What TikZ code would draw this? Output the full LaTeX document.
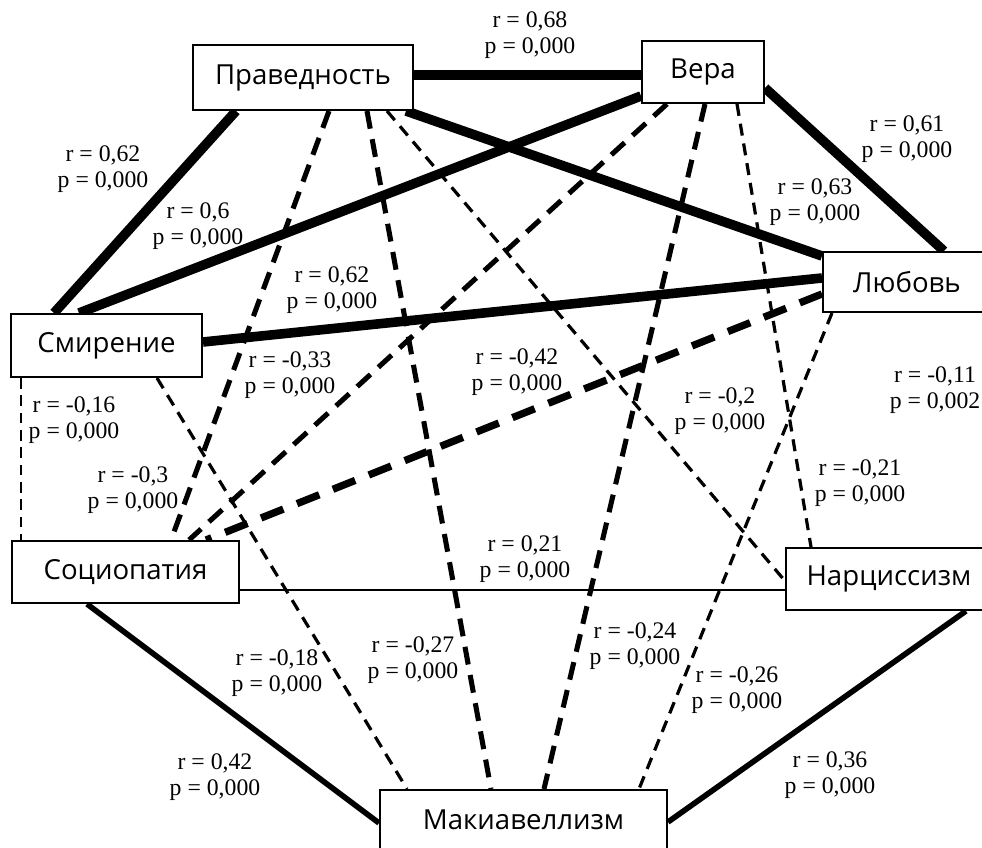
\documentclass[tikz,border=0pt]{standalone}
\usepackage{fontspec}
\newfontfamily\labfont{Liberation Serif}
\newfontfamily\boxfont{Open Sans}
\usetikzlibrary{calc}
\pgfdeclarelayer{bg}
\pgfsetlayers{bg,main}
\tikzset{
  box/.style={draw, line width=1.5pt, fill=white, inner sep=0pt, font=\boxfont\fontsize{20.7}{24}\selectfont},
  lab/.style={align=center, inner sep=0pt, font=\labfont\fontsize{17.8}{19.5}\selectfont},
  strong/.style={line width=7.2pt},
  mid/.style={line width=4.2pt},
  weak/.style={line width=2pt},
  dthick/.style={line width=5.5pt, dash pattern=on 18pt off 11pt},
  dmid/.style={line width=3.8pt, dash pattern=on 13.5pt off 8pt},
  dthin/.style={line width=2.4pt, dash pattern=on 9pt off 6pt},
  dfine/.style={line width=1.6pt, dash pattern=on 8pt off 5pt},
}
\begin{document}
\begin{tikzpicture}[x=0.75pt, y=-0.75pt]
\useasboundingbox (0,0) rectangle (982,848);
\clip (0,0) rectangle (982,848);
% nodes
\node[box, minimum width=165pt, minimum height=48.75pt] (prav) at (303,77.5) {Праведность};
\node[box, minimum width=91.5pt, minimum height=46.5pt] (vera) at (703,72) {Вера};
\node[box, minimum width=126pt, minimum height=45pt] (lub) at (907,282) {Любовь};
\node[box, minimum width=143.25pt, minimum height=47.25pt] (smir) at (106.5,345.5) {Смирение};
\node[box, minimum width=170.25pt, minimum height=46.5pt] (soc) at (125.5,572) {Социопатия};
\node[box, minimum width=154.5pt, minimum height=46.5pt] (narc) at (889,579) {Нарциссизм};
\node[box, minimum width=215.25pt, minimum height=45pt] (mak) at (523.5,820) {Макиавеллизм};
\begin{pgfonlayer}{bg}
\fill[white] (0,0) rectangle (982,848);
% strong solid
\draw[strong] ($(prav.east)+(0,-2.5)$) -- ($(vera.west)+(0,3)$);
\draw[strong] ($(prav.south west)+(44,0)$) -- ($(smir.north west)+(44,0)$);
\draw[strong] ($(vera.south west)+(0,-8)$) -- ($(smir.north west)+(69,0)$);
\draw[strong] ($(prav.south east)+(-8,0)$) -- ($(lub.north west)+(0,5)$);
\draw[strong] ($(vera.east)+(0,16)$) -- ($(lub.north west)+(122,0)$);
\draw[strong] ($(smir.east)+(0,-3.5)$) -- ($(lub.west)+(0,-4)$);
% medium solid
\draw[mid] ($(soc.south west)+(76,0)$) -- ($(mak.west)+(0,3)$);
\draw[mid] ($(narc.south west)+(181,0)$) -- ($(mak.east)+(0,2)$);
% weak solid
\draw[weak] ($(soc.east)+(0,18)$) -- ($(narc.west)+(0,11)$);
% dashed
\draw[dfine] ($(smir.south west)+(11,0)$) -- ($(soc.north west)+(10,0)$);
\draw[dthin] ($(smir.south west)+(147,0)$) -- ($(mak.north west)+(28,0)$);
\draw[dmid] ($(prav.south west)+(137,0)$) -- ($(soc.north west)+(160,0)$);
\draw[dmid] ($(prav.south west)+(175,0)$) -- ($(mak.north west)+(112,0)$);
\draw[dthin] ($(prav.south west)+(195,0)$) -- ($(narc.west)+(0,2)$);
\draw[dmid] ($(vera.south west)+(26,0)$) -- ($(soc.north west)+(178,0)$);
\draw[dmid] ($(vera.south west)+(64,0)$) -- ($(mak.north west)+(165,0)$);
\draw[dthin] ($(vera.south west)+(96,0)$) -- ($(narc.north west)+(26,0)$);
\draw[dthick] ($(lub.west)+(0,12)$) -- ($(soc.north west)+(195,0)$);
\draw[dthin] ($(lub.south west)+(10,0)$) -- ($(mak.north west)+(260,0)$);
\end{pgfonlayer}
% labels
\node[lab] (l1) at (530,35) {r = 0,68\\p = 0,000};
\node[lab] (l2) at (907,139) {r = 0,61\\p = 0,000};
\node[lab] (l3) at (815,202) {r = 0,63\\p = 0,000};
\node[lab] (l4) at (103,169) {r = 0,62\\p = 0,000};
\node[lab] (l5) at (198,226) {r = 0,6\\p = 0,000};
\node[lab] (l6) at (332,290) {r = 0,62\\p = 0,000};
\node[lab] (l7) at (290,375) {r = -0,33\\p = 0,000};
\node[lab] (l8) at (517,372) {r = -0,42\\p = 0,000};
\node[lab] (l9) at (74,420) {r = -0,16\\p = 0,000};
\node[lab] (l10) at (133,490) {r = -0,3\\p = 0,000};
\node[lab] (l11) at (935,390) {r = -0,11\\p = 0,002};
\node[lab] (l12) at (720,411) {r = -0,2\\p = 0,000};
\node[lab] (l13) at (860,483) {r = -0,21\\p = 0,000};
\node[lab] (l14) at (525,559) {r = 0,21\\p = 0,000};
\node[lab] (l15) at (277,673) {r = -0,18\\p = 0,000};
\node[lab] (l16) at (413,660) {r = -0,27\\p = 0,000};
\node[lab] (l17) at (635,646) {r = -0,24\\p = 0,000};
\node[lab] (l18) at (737,690) {r = -0,26\\p = 0,000};
\node[lab] (l19) at (215,777) {r = 0,42\\p = 0,000};
\node[lab] (l20) at (830,775) {r = 0,36\\p = 0,000};
\end{tikzpicture}
\end{document}
